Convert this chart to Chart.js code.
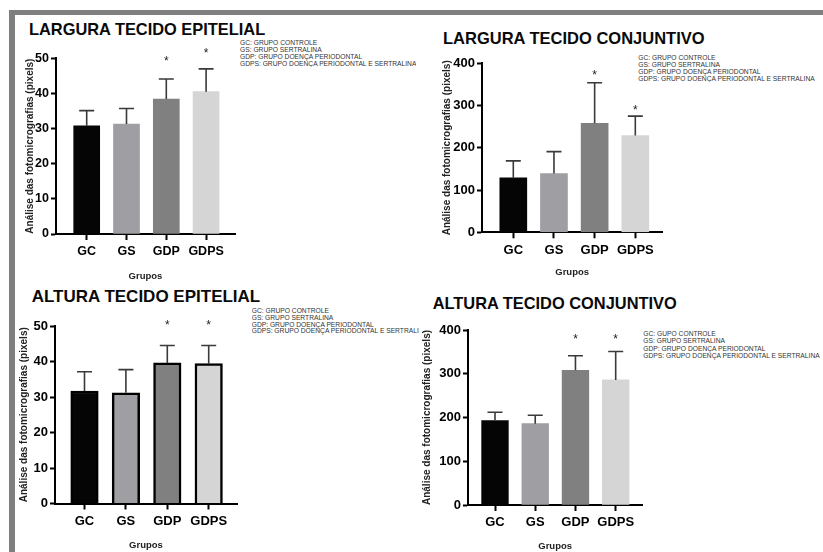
<!DOCTYPE html>
<html lang="pt">
<head>
<meta charset="utf-8">
<title>Análise das fotomicrografias</title>
<script src="https://cdn.jsdelivr.net/npm/chart.js@4.4.1/dist/chart.umd.min.js"></script>
<style>
  html, body { margin: 0; padding: 0; background: #fff; }
  body { width: 823px; height: 552px; position: relative; overflow: hidden;
         font-family: 'Liberation Sans', Arial, sans-serif; }
  .frame { position: absolute; background: #7f7f7f; }
  .panel-title { position: absolute; font-weight: bold; line-height: 1; white-space: nowrap; color: #0a0a0a; }
  .notes { position: absolute; font-size: 6.7px; color: #333; white-space: nowrap; overflow: hidden; }
  canvas { position: absolute; }
</style>
</head>
<body>
<div class="frame" style="left:9px;top:10px;width:814px;height:5px"></div>
<div class="frame" style="left:9px;top:10px;width:6px;height:542px"></div>

<script>
// ---- dados ----
const groups = ['GC', 'GS', 'GDP', 'GDPS'];

// média e desvio-padrão (pixels)
const larguraEpitelialMedia = [30.8, 31.3, 38.4, 40.5];
const larguraEpitelialDP    = [4.3, 4.4, 5.7, 6.5];

const larguraConjuntivoMedia = [129, 139, 258, 229];
const larguraConjuntivoDP    = [40, 52, 96, 46];

const alturaEpitelialMedia = [31.7, 31.2, 39.6, 39.4];
const alturaEpitelialDP    = [5.4, 6.5, 4.9, 5.1];

const alturaConjuntivoMedia = [193, 186, 308, 286];
const alturaConjuntivoDP    = [19, 19, 33, 65];

// grupos com diferença significativa (*)
const significativo = [false, false, true, true];

const ticksEpitelial  = [0, 10, 20, 30, 40, 50];
const ticksConjuntivo = [0, 100, 200, 300, 400];

const notas = [
  'GC: GRUPO CONTROLE',
  'GS: GRUPO SERTRALINA',
  'GDP: GRUPO DOENÇA PERIODONTAL',
  'GDPS: GRUPO DOENÇA PERIODONTAL E SERTRALINA'
];
const notasAlturaConjuntivo = [
  'GC: GUPO CONTROLE',
  'GS: GRUPO SERTRALINA',
  'GDP: GRUPO DOENÇA PERIODONTAL',
  'GDPS: GRUPO DOENÇA PERIODONTAL E SERTRALINA'
];

const yTitle = 'Análise das fotomicrografias (pixels)';
const xTitle = 'Grupos';

// ---- aparência ----
const FONT = "'Liberation Sans', Arial, sans-serif";
Chart.defaults.font.family = FONT;
const barColors = ['#050505', '#9e9ea3', '#808080', '#d5d5d5'];

const panels = [
  {
    title: 'LARGURA TECIDO EPITELIAL', titleLeft: 29, titleBase: 35, titleSize: 16.4,
    notes: notas, notesLeft: 240, notesTop: 38.8, notesLH: 7, notesWidth: null,
    mean: larguraEpitelialMedia, sd: larguraEpitelialDP, ticks: ticksEpitelial,
    starLevel: [null, null, 50, 52.4],
    canvas: { x: 24, y: 44, w: 218, h: 238 },
    plot: { left: 56, top: 58.3, right: 235, bottom: 234 },
    yTitleX: 30, xTitleY: 276, firstCenter: 86.7, spacing: 39.8,
    barThickness: 26, tickFont: 12.5, outline: 0
  },
  {
    title: 'LARGURA TECIDO CONJUNTIVO', titleLeft: 443, titleBase: 43.5, titleSize: 16.5,
    notes: notas, notesLeft: 638.3, notesTop: 53.8, notesLH: 7, notesWidth: null,
    mean: larguraConjuntivoMedia, sd: larguraConjuntivoDP, ticks: ticksConjuntivo,
    starLevel: [null, null, 380, 297],
    canvas: { x: 440, y: 50, w: 230, h: 229 },
    plot: { left: 482, top: 63.3, right: 662.3, bottom: 232.3 },
    yTitleX: 446.8, xTitleY: 272.7, firstCenter: 513.3, spacing: 40.67,
    barThickness: 27, tickFont: 13, outline: 0
  },
  {
    title: 'ALTURA TECIDO EPITELIAL', titleLeft: 31.7, titleBase: 302.5, titleSize: 17,
    notes: notas, notesLeft: 251.7, notesTop: 308.4, notesLH: 6.67, notesWidth: 167,
    mean: alturaEpitelialMedia, sd: alturaEpitelialDP, ticks: ticksEpitelial,
    starLevel: [null, null, 51.2, 51.2],
    canvas: { x: 18, y: 312, w: 226, h: 240 },
    plot: { left: 55, top: 326, right: 237, bottom: 503.5 },
    yTitleX: 24.5, xTitleY: 545.7, firstCenter: 84.5, spacing: 41.4,
    barThickness: 27.5, tickFont: 13, outline: 2.5
  },
  {
    title: 'ALTURA TECIDO CONJUNTIVO', titleLeft: 432.7, titleBase: 308.5, titleSize: 16.4,
    notes: notasAlturaConjuntivo, notesLeft: 643.3, notesTop: 329.5, notesLH: 7.65, notesWidth: null,
    mean: alturaConjuntivoMedia, sd: alturaConjuntivoDP, ticks: ticksConjuntivo,
    starLevel: [null, null, 386, 386],
    canvas: { x: 421, y: 318, w: 228, h: 235 },
    plot: { left: 468, top: 330, right: 642.3, bottom: 505 },
    yTitleX: 427.5, xTitleY: 546.7, firstCenter: 495, spacing: 40.23,
    barThickness: 26.7, tickFont: 13, outline: 0
  }
];

function addText(p) {
  const t = document.createElement('div');
  t.className = 'panel-title';
  t.textContent = p.title;
  t.style.fontSize = p.titleSize + 'px';
  t.style.left = p.titleLeft + 'px';
  t.style.top = (p.titleBase - 0.8465 * p.titleSize) + 'px';
  document.body.appendChild(t);

  const n = document.createElement('div');
  n.className = 'notes';
  n.style.left = p.notesLeft + 'px';
  n.style.top = p.notesTop + 'px';
  n.style.lineHeight = p.notesLH + 'px';
  if (p.notesWidth) n.style.width = p.notesWidth + 'px';
  p.notes.forEach(line => {
    const d = document.createElement('div');
    d.textContent = line;
    n.appendChild(d);
  });
  document.body.appendChild(n);
}

function buildPanel(p) {
  addText(p);

  const c = document.createElement('canvas');
  c.width = p.canvas.w; c.height = p.canvas.h;
  c.style.left = p.canvas.x + 'px'; c.style.top = p.canvas.y + 'px';
  c.style.width = p.canvas.w + 'px'; c.style.height = p.canvas.h + 'px';
  document.body.appendChild(c);

  const yTitleSize = 10, xTitleSize = 9.5;
  const yLH = yTitleSize * 1.2, xLH = xTitleSize * 1.2;
  const scaleLeft = p.yTitleX - yLH / 2;
  const scaleBottom = p.xTitleY + xLH / 2;
  const yWidth = p.plot.left - scaleLeft;
  const xHeight = scaleBottom - p.plot.bottom;

  const xMin = 1 - (p.firstCenter - p.plot.left) / p.spacing;
  const xMax = 1 + (p.plot.right - p.firstCenter) / p.spacing;

  // barras de erro (média + DP) e asteriscos
  const errorBars = {
    id: 'errorBars',
    afterDatasetsDraw(chart) {
      const { ctx } = chart;
      const y = chart.scales.y;
      const meta = chart.getDatasetMeta(0);
      ctx.save();
      ctx.strokeStyle = '#3a3a3a';
      ctx.lineWidth = 1.6;
      meta.data.forEach((bar, i) => {
        const top = y.getPixelForValue(p.mean[i] + p.sd[i]);
        ctx.beginPath();
        ctx.moveTo(bar.x, bar.y);
        ctx.lineTo(bar.x, top);
        ctx.moveTo(bar.x - 7.5, top);
        ctx.lineTo(bar.x + 7.5, top);
        ctx.stroke();
        if (significativo[i]) {
          ctx.fillStyle = '#222';
          ctx.font = '12px ' + FONT;
          ctx.textAlign = 'center';
          ctx.textBaseline = 'alphabetic';
          ctx.fillText('*', bar.x, y.getPixelForValue(p.starLevel[i]) + 7);
        }
      });
      ctx.restore();
    }
  };

  new Chart(c, {
    type: 'bar',
    data: {
      datasets: [{
        data: groups.map((g, i) => ({ x: i + 1, y: p.mean[i] })),
        backgroundColor: barColors,
        borderColor: '#000',
        borderWidth: p.outline,
        borderSkipped: 'start',
        barThickness: p.barThickness
      }]
    },
    options: {
      responsive: false,
      animation: false,
      events: [],
      layout: {
        padding: {
          left: scaleLeft - p.canvas.x,
          top: p.plot.top - p.canvas.y,
          right: p.canvas.x + p.canvas.w - p.plot.right,
          bottom: p.canvas.y + p.canvas.h - scaleBottom
        }
      },
      plugins: { legend: { display: false }, tooltip: { enabled: false } },
      scales: {
        x: {
          type: 'linear',
          min: xMin, max: xMax,
          offset: false,
          z: 1,
          afterBuildTicks: s => { s.ticks = groups.map((g, i) => ({ value: i + 1 })); },
          afterFit: s => { s.height = xHeight; s.paddingLeft = 0; s.paddingRight = 0; },
          border: { display: true, color: '#000', width: 2 },
          grid: { offset: false, drawOnChartArea: false, drawTicks: true, tickLength: 6, tickWidth: 2, tickColor: '#000' },
          ticks: {
            autoSkip: false, maxRotation: 0, padding: 4, color: '#000',
            font: { size: p.tickFont, weight: 'bold' },
            callback: v => groups[v - 1]
          },
          title: {
            display: true, text: xTitle, color: '#222', padding: 0,
            font: { size: xTitleSize, weight: 'bold', lineHeight: 1.2 }
          }
        },
        y: {
          min: p.ticks[0], max: p.ticks[p.ticks.length - 1],
          z: 1,
          afterBuildTicks: s => { s.ticks = p.ticks.map(v => ({ value: v })); },
          afterFit: s => { s.width = yWidth; s.paddingTop = 0; s.paddingBottom = 0; },
          border: { display: true, color: '#000', width: 2 },
          grid: { drawOnChartArea: false, drawTicks: true, tickLength: 5, tickWidth: 2, tickColor: '#000' },
          ticks: { padding: 2, color: '#000', font: { size: p.tickFont, weight: 'bold' } },
          title: {
            display: true, text: yTitle, color: '#222', padding: 0,
            font: { size: yTitleSize, weight: 'bold', lineHeight: 1.2 }
          }
        }
      }
    },
    plugins: [errorBars]
  });
}

panels.forEach(buildPanel);
</script>
</body>
</html>
